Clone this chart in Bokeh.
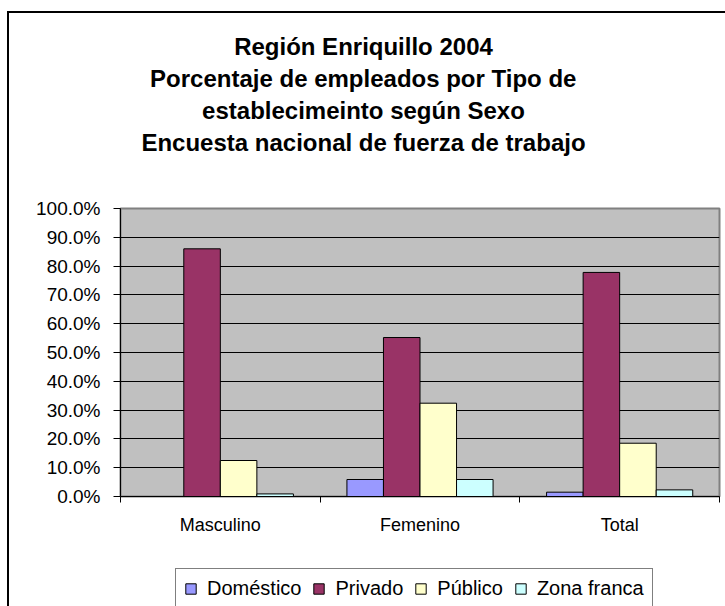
from bokeh.plotting import figure
from bokeh.layouts import column
from bokeh.models import (Range1d, FixedTicker, NumeralTickFormatter, CustomJSTickFormatter,
                          Legend, LegendItem, Title, ColumnDataSource)
from bokeh.transform import dodge
from bokeh.embed import file_html
from bokeh.resources import INLINE

# ---- data ----
categories = ["Masculino", "Femenino", "Total"]
series_names = ["Doméstico", "Privado", "Público", "Zona franca"]
domestico = [0.000, 0.059, 0.015]
privado = [0.860, 0.552, 0.778]
publico = [0.125, 0.324, 0.185]
zona_franca = [0.009, 0.059, 0.023]
series_colors = ["#9999FF", "#993366", "#FFFFCC", "#CCFFFF"]
y_ticks = [0.0, 0.1, 0.2, 0.3, 0.4, 0.5, 0.6, 0.7, 0.8, 0.9, 1.0]
title_lines = ["Región Enriquillo 2004",
               "Porcentaje de empleados por Tipo de",
               "establecimeinto según Sexo",
               "Encuesta nacional de fuerza de trabajo"]

FONT = "Liberation Sans"

n = len(categories)
centers = [i + 0.5 for i in range(n)]
boundaries = [float(i) for i in range(n + 1)]
cols = ["s0", "s1", "s2", "s3"]

source = ColumnDataSource(dict(x=centers, cat=categories,
                               s0=domestico, s1=privado, s2=publico, s3=zona_franca))

W, H = 725, 606
FL, FR, FT, FB = 120, 719, 208, 496
LEG_TOP = 566
p = figure(frame_width=FR - FL, frame_height=FB - FT,
           x_range=Range1d(0, n), y_range=Range1d(0, 1),
           output_backend="svg", toolbar_location=None, title=None,
           min_border_left=FL, min_border_right=W - FR, min_border_top=FT,
           min_border_bottom=LEG_TOP - FB,
           background_fill_color="#C0C0C0", border_fill_color="white",
           border_fill_alpha=0,
           outline_line_color="#808080", outline_line_width=2)

# chart-area border (left and top edges visible in the picture)
p.styles = {
    "background-color": "white",
    "background-image": "linear-gradient(#000, #000), linear-gradient(#000, #000)",
    "background-size": "2px 100%, 100% 2px",
    "background-position": "7px 11px, 7px 11px",
    "background-repeat": "no-repeat",
}

bar_w = 0.183
offsets = [-1.5 * bar_w, -0.5 * bar_w, 0.5 * bar_w, 1.5 * bar_w]
for k, col in enumerate(cols):
    p.vbar(x=dodge("x", offsets[k]), top=col, width=bar_w, bottom=0, source=source,
           fill_color=series_colors[k], line_color="black", line_width=1)

# grid
p.xgrid.visible = False
p.ygrid.ticker = FixedTicker(ticks=y_ticks)
p.ygrid.grid_line_color = "black"
p.ygrid.grid_line_width = 1
p.ygrid.grid_line_alpha = 1

# y axis
p.yaxis.ticker = FixedTicker(ticks=y_ticks)
p.yaxis.formatter = NumeralTickFormatter(format="0.0%")
p.yaxis.major_tick_out = 7
p.yaxis.major_tick_in = 0
p.yaxis.minor_tick_line_color = None
p.yaxis.axis_line_color = "black"
p.yaxis.major_tick_line_color = "black"
p.yaxis.major_label_standoff = 13
p.yaxis.major_label_text_font = FONT
p.yaxis.major_label_text_font_size = "19px"
p.yaxis.major_label_text_color = "black"

# x axis
p.xaxis.ticker = FixedTicker(ticks=centers, minor_ticks=boundaries)
p.xaxis.formatter = CustomJSTickFormatter(args=dict(labels=categories),
                                          code="return labels[Math.floor(tick)];")
p.xaxis.major_tick_out = 0
p.xaxis.major_tick_in = 0
p.xaxis.major_tick_line_color = None
p.xaxis.minor_tick_out = 6
p.xaxis.minor_tick_in = 0
p.xaxis.minor_tick_line_color = "black"
p.xaxis.axis_line_color = "black"
p.xaxis.major_label_standoff = 12
p.xaxis.major_label_text_font = FONT
p.xaxis.major_label_text_font_size = "18px"
p.xaxis.major_label_text_color = "black"

# ---- title: one Title per line, centred on the chart area (x = 363) ----
BOLD_W = {' ': 278, 'a': 556, 'b': 611, 'c': 556, 'd': 611, 'e': 556, 'f': 333, 'g': 611,
          'i': 278, 'j': 278, 'l': 278, 'm': 889, 'n': 611, 'o': 611, 'p': 611, 'q': 611,
          'r': 389, 's': 556, 't': 333, 'u': 611, 'x': 556, 'z': 500, 'E': 667, 'P': 667,
          'R': 722, 'S': 667, 'T': 611, 'ó': 611, 'ú': 611}
TITLE_SIZE = 24
def text_width(s):
    return sum(BOLD_W.get(ch, 556) for ch in s) / 1000 * TITLE_SIZE

CHART_CX = 363
# spacer nearest to the frame, then lines from the bottom one upward
p.add_layout(Title(text=" ", text_font_size="1px", standoff=48), "above")
for line in reversed(title_lines):
    p.add_layout(Title(text=line, align="left", offset=CHART_CX - FL - text_width(line) / 2,
                       standoff=2.5, vertical_align="bottom",
                       text_font=FONT, text_font_style="bold",
                       text_font_size=f"{TITLE_SIZE}px", text_color="black"), "above")

# ---- legend strip below the chart (its own small canvas, frame aligned with the plot) ----
leg = figure(width=W, height=H - LEG_TOP, x_axis_type=None, y_axis_type=None,
             x_range=Range1d(0, n), y_range=Range1d(5, 6),
             output_backend="svg", toolbar_location=None, title=None,
             min_border=0, min_border_left=0, min_border_right=0,
             min_border_top=0, min_border_bottom=0,
             background_fill_alpha=0, border_fill_alpha=0, outline_line_color=None)
leg.grid.visible = False
leg.styles = {
    "background-color": "white",
    "background-image": "linear-gradient(#000, #000)",
    "background-size": "2px 100%",
    "background-position": "7px 0px",
    "background-repeat": "no-repeat",
}
# key glyphs: same series, drawn outside this strip's visible y range (only the legend keys show)
key_renderers = [leg.vbar(x="x", top=col, width=bar_w, bottom=0, source=source,
                          fill_color=c, line_color="black", line_width=1)
                 for col, c in zip(cols, series_colors)]
legend = Legend(items=[LegendItem(label=nm, renderers=[r], index=0)
                       for nm, r in zip(series_names, key_renderers)],
                location=(55, -3), orientation="horizontal",
                padding=8, spacing=11, label_standoff=10, margin=0,
                glyph_width=13, glyph_height=13,
                label_text_font=FONT, label_text_font_size="20px",
                label_text_color="black",
                border_line_color="black", border_line_width=1.5,
                background_fill_color="white", background_fill_alpha=1)
leg.add_layout(legend, "center")

layout = column(p, leg, spacing=0)
open("out.html", "w").write(file_html(layout, INLINE))
